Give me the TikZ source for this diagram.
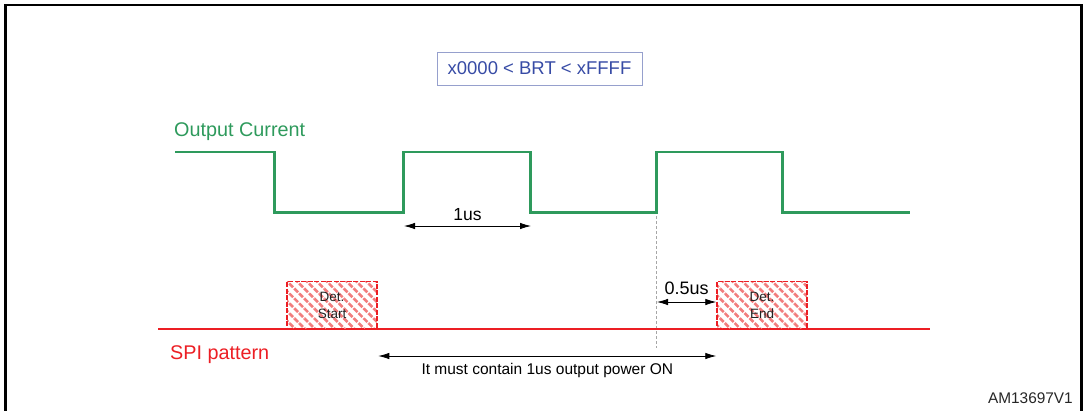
\documentclass[tikz,border=0pt]{standalone}
\usepackage{fontspec}
\setmainfont{Liberation Sans}
\usetikzlibrary{arrows.meta,patterns.meta}
\definecolor{wavegreen}{RGB}{46,154,92}
\definecolor{spired}{RGB}{236,30,36}
\definecolor{brtblue}{RGB}{55,75,165}
\definecolor{boxborder}{RGB}{150,160,205}
\definecolor{hatch}{RGB}{242,125,125}
\definecolor{dettext}{RGB}{35,35,35}
\tikzset{
  wave/.style={draw=wavegreen, line width=2.6pt, line join=miter},
  spiline/.style={draw=spired, line width=2.2pt},
  dimarrow/.style={draw=black, line width=0.8pt, {Latex[length=11pt,width=6.5pt]}-{Latex[length=11pt,width=6.5pt]}},
  detbox/.style={draw=spired, line width=1.4pt, dash pattern=on 5pt off 1.5pt,
    pattern={Lines[angle=-45,distance=7pt,line width=2.6pt]}, pattern color=hatch,
    minimum width=90pt, minimum height=47pt, inner sep=0pt, align=center,
    text=dettext, font=\fontsize{13.5}{16}\selectfont},
  marker/.style={draw=gray!70, line width=0.6pt, dash pattern=on 3pt off 2pt},
  lbl/.style={inner sep=0pt}
}
\begin{document}
\begin{tikzpicture}[x=1pt,y=-1pt]
\useasboundingbox (0,0) rectangle (1083,410);
\clip (0,0) rectangle (1083,410);
% frame
\draw[line width=2.5pt] (5.5,420) -- (5.5,5) -- (1081.5,5) -- (1081.5,420);
% BRT box
\node[draw=boxborder, line width=1pt, minimum width=205pt, minimum height=33pt, inner sep=0pt,
  text=brtblue, font=\fontsize{18.5}{20}\selectfont] (brt) at (539.5,68.5) {x0000 < BRT < xFFFF};
% Output current label
\node[lbl, anchor=base west, text=wavegreen, font=\fontsize{19.8}{22}\selectfont] (oc) at (174,136.5) {Output Current};
% waveform
\coordinate (w0) at (175,152);
\coordinate (w1) at (274.5,152);
\coordinate (w2) at (274.5,212.5);
\coordinate (w3) at (403.5,212.5);
\coordinate (w4) at (403.5,152);
\coordinate (w5) at (530.5,152);
\coordinate (w6) at (530.5,212.5);
\coordinate (w7) at (656.5,212.5);
\coordinate (w8) at (656.5,152);
\coordinate (w9) at (782.5,152);
\coordinate (w10) at (782.5,212.5);
\coordinate (w11) at (910,212.5);
\draw[wave] (w0) -- (w1) -- (w2) -- (w3) -- (w4) -- (w5) -- (w6) -- (w7) -- (w8) -- (w9) -- (w10) -- (w11);
% gray marker
\coordinate (m0) at (656.5,216);
\coordinate (m1) at (656.5,348);
\draw[marker] (m0) -- (m1);
% 1us arrow
\coordinate (a1) at (404,226);
\coordinate (a2) at (531,226);
\draw[dimarrow] (a1) -- node[lbl, above=4.5pt, font=\fontsize{17.5}{20}\selectfont] (l1) {1us} (a2);
% SPI line
\coordinate (s0) at (158,329);
\coordinate (s1) at (930,329);
\draw[spiline] (s0) -- (s1);
% Det boxes
\node[detbox] (ds) at (332,305) {Det.\\[1pt]Start};
\node[detbox] (de) at (762,305) {Det.\\[1pt]End};
% 0.5us arrow
\coordinate (b1) at (657,302);
\coordinate (b2) at (de.west |- b1);
\draw[dimarrow] (b1) -- node[lbl, above=7pt, font=\fontsize{18}{20}\selectfont] (l2) {0.5us} (b2);
% SPI label
\node[lbl, anchor=base west, text=spired, font=\fontsize{19.8}{22}\selectfont] (spi) at (170,359) {SPI pattern};
% long arrow
\coordinate (c1) at (ds.east |- 0,356);
\coordinate (c2) at (de.west |- 0,356);
\draw[dimarrow] (c1) -- node[lbl, below=7pt, font=\fontsize{15.5}{18}\selectfont] (l3) {It must contain 1us output power ON} (c2);
% id
\node[lbl, anchor=base east, font=\fontsize{15.4}{18}\selectfont, text=black!85] (id) at (1073,403) {AM13697V1};
\end{tikzpicture}
\end{document}
